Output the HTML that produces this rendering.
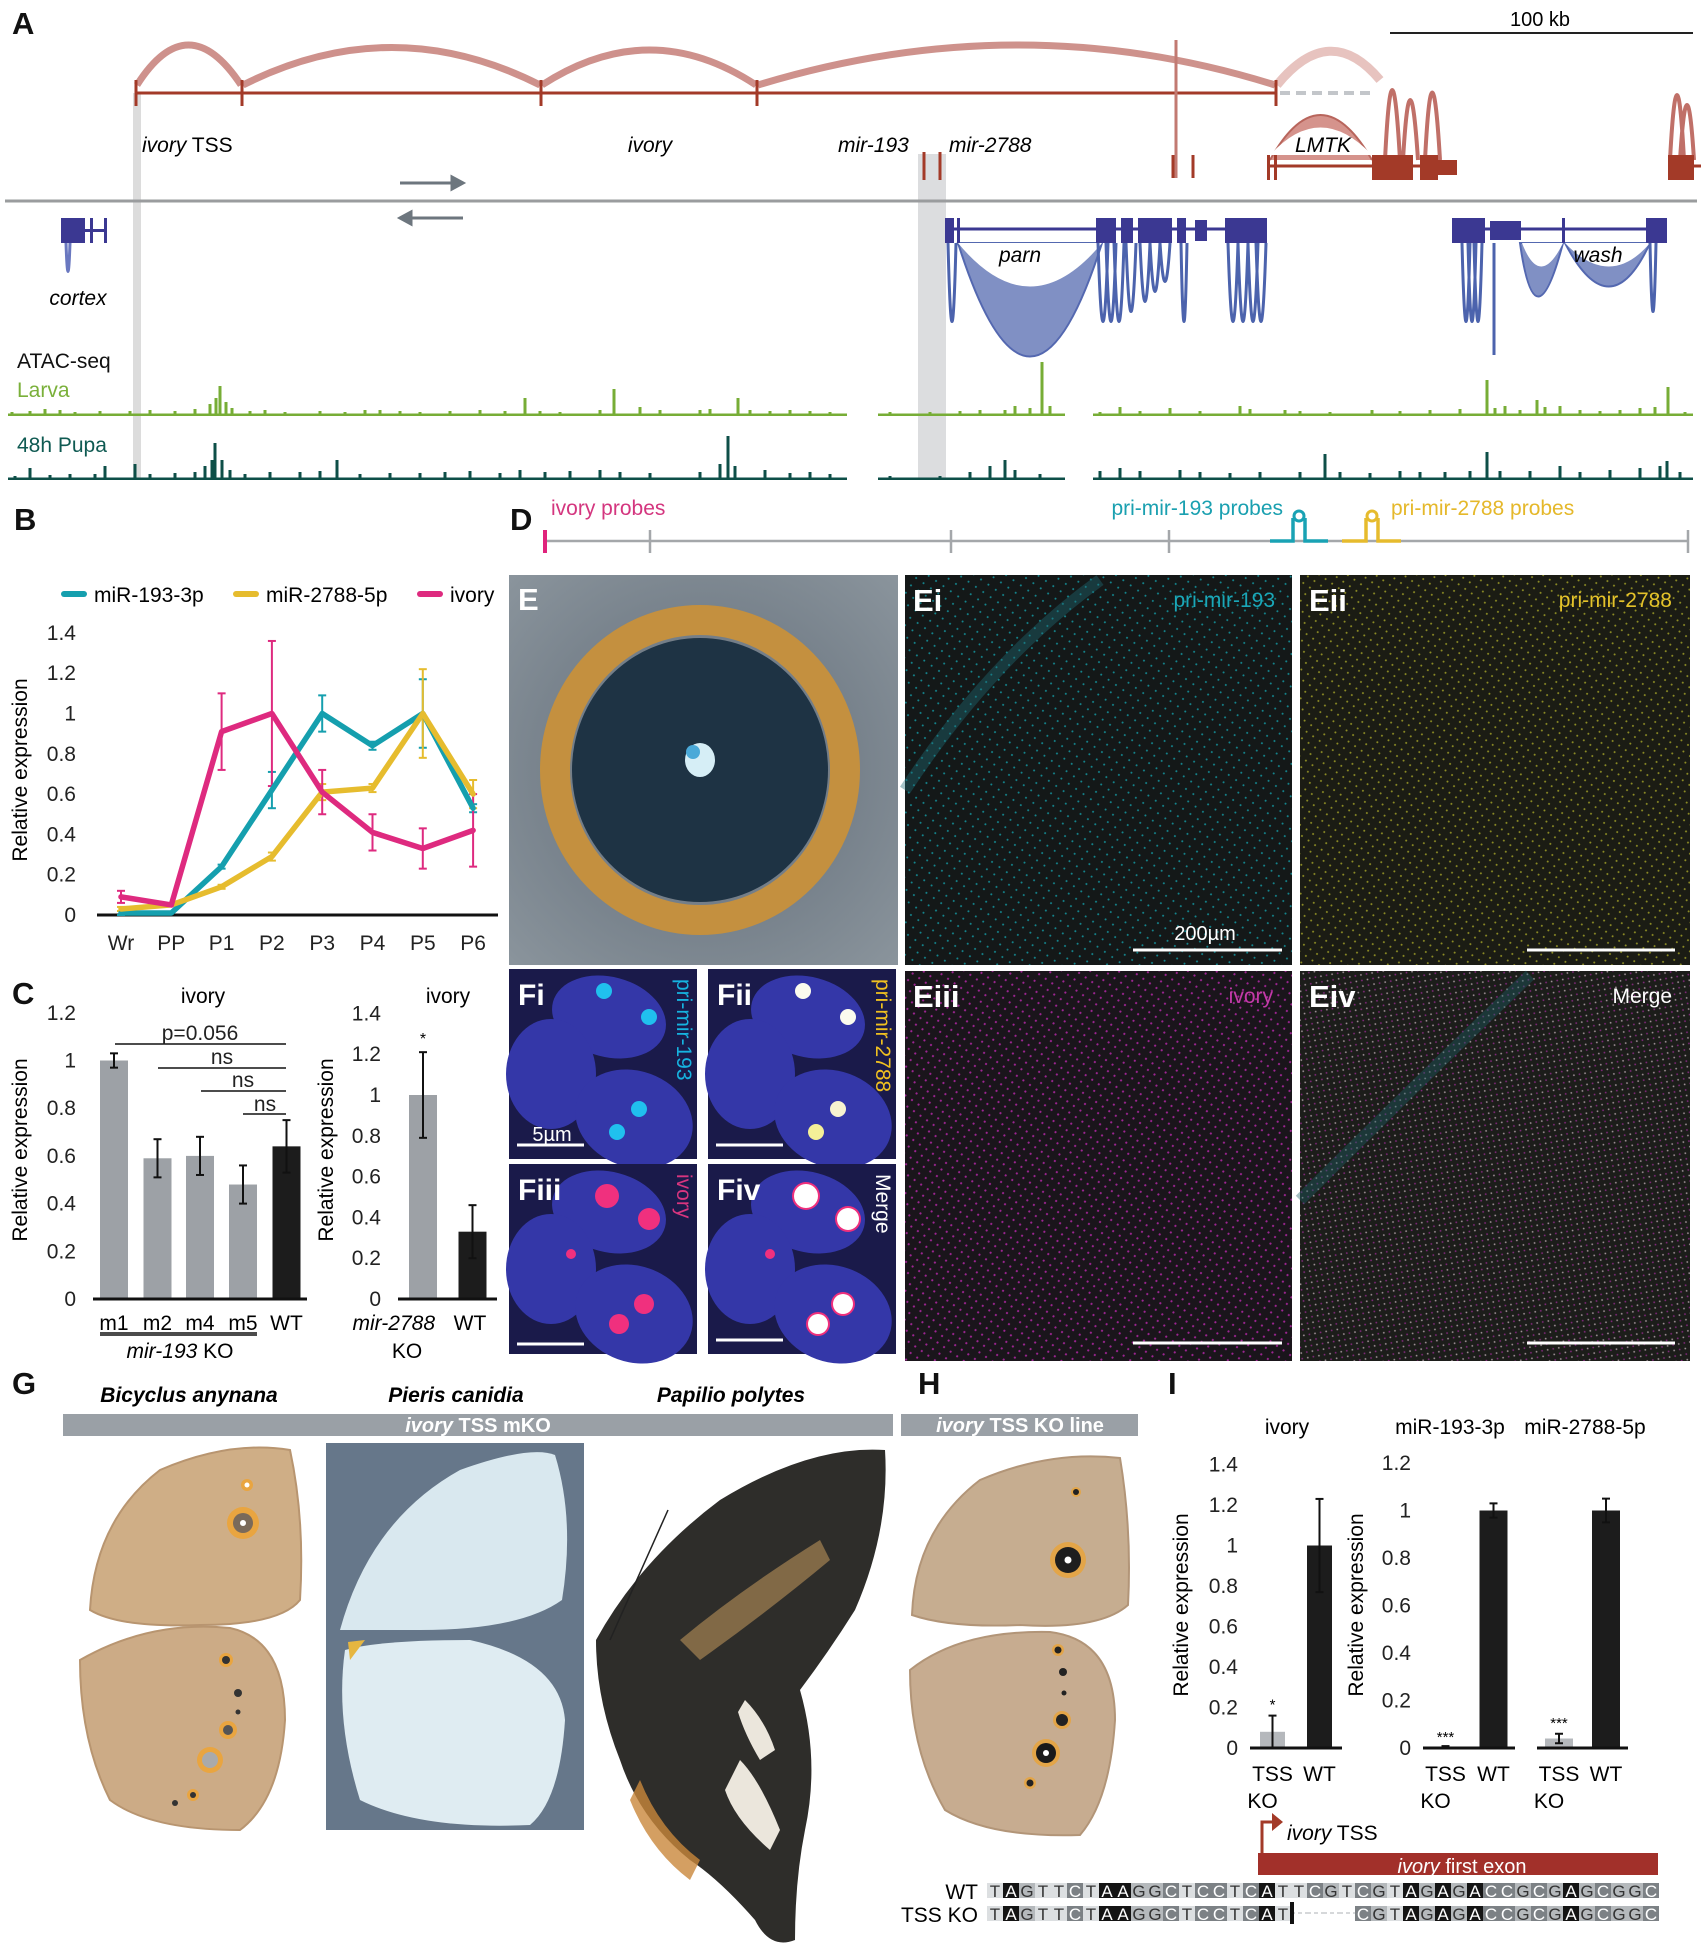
<!DOCTYPE html>
<html><head><meta charset="utf-8"><style>
html,body{margin:0;padding:0;background:#fff}
svg{display:block}
text{font-family:"Liberation Sans",sans-serif}
.pl{font-weight:bold;font-size:31px;fill:#111}
.tk{font-size:21px;fill:#222}
.it{font-style:italic}
</style></head><body>
<svg id="fig" width="1701" height="1950" viewBox="0 0 1701 1950" xmlns="http://www.w3.org/2000/svg">
<defs>
<pattern id="dotC" width="9" height="9" patternUnits="userSpaceOnUse" patternTransform="rotate(35)"><rect width="9" height="9" fill="#141818"/><circle cx="2" cy="2" r="1" fill="#138890"/></pattern>
<pattern id="dotY" width="8" height="8" patternUnits="userSpaceOnUse" patternTransform="rotate(35)"><rect width="8" height="8" fill="#1b1c14"/><circle cx="2" cy="2" r="1" fill="#8f8e25"/></pattern>
<pattern id="dotM" width="8" height="8" patternUnits="userSpaceOnUse" patternTransform="rotate(35)"><rect width="8" height="8" fill="#1a151b"/><circle cx="2" cy="2" r="1.1" fill="#9d2592"/></pattern>
<pattern id="dotW" width="8" height="8" patternUnits="userSpaceOnUse" patternTransform="rotate(35)"><rect width="8" height="8" fill="#1c1d1a"/><circle cx="2" cy="2" r="0.9" fill="#a7989e"/><circle cx="6" cy="6" r="0.9" fill="#86287f"/></pattern>
<radialGradient id="eyeBg" cx="0.5" cy="0.5" r="0.7"><stop offset="0" stop-color="#5f6a76"/><stop offset="1" stop-color="#8a949c"/></radialGradient>
</defs>

<!-- ===== Panel A ===== -->
<g>
<text class="pl" x="12" y="34">A</text>
<rect x="133" y="93" width="8" height="387" fill="#dcdcdc"/>
<rect x="918" y="154" width="28" height="326" fill="#dcdddf"/>
<g fill="none" stroke="#c98680" stroke-width="7" opacity="0.9">
<path d="M137 85 Q188 5 241 85"/><path d="M243 85 Q392 10 540 85"/><path d="M542 85 Q650 15 756 85"/><path d="M758 85 Q1020 5 1275 85"/>
</g>
<path d="M1277 85 Q1330 20 1380 80" fill="none" stroke="#e7c3bf" stroke-width="9"/>
<line x1="135" y1="93" x2="1277" y2="93" stroke="#a33a28" stroke-width="3"/>
<g stroke="#a33a28" stroke-width="3">
<line x1="136" y1="80" x2="136" y2="106"/><line x1="242" y1="80" x2="242" y2="106"/><line x1="541" y1="80" x2="541" y2="106"/><line x1="757" y1="80" x2="757" y2="106"/><line x1="1276" y1="80" x2="1276" y2="106"/>
</g>
<line x1="1280" y1="93" x2="1372" y2="93" stroke="#c3c6ca" stroke-width="4" stroke-dasharray="10 6"/>
<line x1="1176" y1="40" x2="1176" y2="178" stroke="#c27a72" stroke-width="3"/>
<g stroke="#a33a28" stroke-width="3"><line x1="1173" y1="155" x2="1173" y2="178"/><line x1="1193" y1="155" x2="1193" y2="178"/><line x1="924" y1="152" x2="924" y2="180"/><line x1="940" y1="152" x2="940" y2="180"/></g>
<g>
<path d="M1270 160 Q1320 70 1372 160" fill="#d5938c" stroke="#b8655c" stroke-width="2"/>
<path d="M1270 155 Q1320 100 1372 155" fill="#fff" stroke="none"/>
<path d="M1385 160 Q1392 20 1400 160 M1403 160 Q1410 40 1418 160 M1425 160 Q1432 25 1440 160" fill="none" stroke="#c07068" stroke-width="4"/>
<line x1="1267" y1="166" x2="1457" y2="166" stroke="#a33a28" stroke-width="3"/>
<rect x="1267" y="155" width="3" height="25" fill="#a33a28"/><rect x="1274" y="155" width="3" height="25" fill="#a33a28"/>
<rect x="1372" y="155" width="41" height="25" fill="#a33a28"/><rect x="1420" y="155" width="18" height="25" fill="#a33a28"/><rect x="1438" y="160" width="19" height="15" fill="#a33a28"/>
<path d="M1670 160 Q1677 30 1684 160 M1680 160 Q1687 50 1694 160" fill="none" stroke="#c07068" stroke-width="4"/>
<rect x="1668" y="155" width="26" height="25" fill="#a33a28"/><line x1="1668" y1="166" x2="1701" y2="166" stroke="#a33a28" stroke-width="3"/>
</g>
<text x="142" y="152" font-size="21"><tspan class="it">ivory</tspan> TSS</text>
<text x="650" y="152" font-size="21" class="it" text-anchor="middle">ivory</text>
<text x="838" y="152" font-size="21" class="it">mir-193</text>
<text x="949" y="152" font-size="21" class="it">mir-2788</text>
<text x="1323" y="152" font-size="21" class="it" text-anchor="middle">LMTK</text>
<text x="1540" y="26" font-size="20" text-anchor="middle">100 kb</text>
<line x1="1390" y1="33" x2="1693" y2="33" stroke="#222" stroke-width="2"/>
<g stroke="#6d767e" stroke-width="3" fill="#6d767e">
<line x1="400" y1="183" x2="456" y2="183"/><path d="M463 183 L452 177 L452 189Z"/>
<line x1="407" y1="218" x2="463" y2="218"/><path d="M400 218 L411 212 L411 224Z"/>
</g>
<line x1="5" y1="201" x2="1697" y2="201" stroke="#9a9c9e" stroke-width="3"/>
<g fill="#3b3892">
<rect x="61" y="218" width="24" height="25"/><rect x="90" y="218" width="3" height="25"/><rect x="104" y="218" width="3" height="25"/><rect x="85" y="229" width="22" height="3"/>
<path d="M66 243 Q68 300 70 243" fill="none" stroke="#6a78c0" stroke-width="3"/>
</g>
<text x="78" y="305" font-size="21" class="it" text-anchor="middle">cortex</text>
<g>
<path d="M958 243 Q1030 470 1102 243 Z" fill="#8090c4" stroke="#5468b0" stroke-width="2"/>
<path d="M958 243 Q1030 330 1102 243 Z" fill="#fff"/>
<g fill="none" stroke="#4c63ad" stroke-width="3">
<path d="M948 243 Q952 400 956 243"/><path d="M1098 243 Q1103 400 1108 243 M1106 243 Q1111 400 1116 243 M1114 243 Q1119 400 1124 243 M1126 243 Q1131 380 1136 243 M1140 243 Q1145 360 1150 243 M1150 243 Q1155 340 1160 243 M1160 243 Q1165 320 1170 243 M1181 243 Q1184 400 1187 243 M1228 243 Q1233 400 1238 243 M1238 243 Q1243 400 1248 243 M1248 243 Q1253 400 1258 243 M1256 243 Q1261 400 1266 243"/>
</g>
<line x1="945" y1="229" x2="1267" y2="229" stroke="#3b3892" stroke-width="3"/>
<g fill="#3b3892"><rect x="945" y="218" width="9" height="25"/><rect x="957" y="218" width="3" height="25"/><rect x="1096" y="218" width="20" height="25"/><rect x="1121" y="218" width="12" height="25"/><rect x="1138" y="218" width="34" height="25"/><rect x="1177" y="218" width="9" height="25"/><rect x="1195" y="220" width="12" height="21"/><rect x="1225" y="218" width="42" height="25"/></g>
</g>
<text x="1020" y="262" font-size="21" class="it" text-anchor="middle">parn</text>
<g>
<path d="M1520 243 Q1535 350 1563 243 Z" fill="#8090c4" stroke="#5468b0" stroke-width="2"/>
<path d="M1565 243 Q1610 330 1650 243 Z" fill="#8090c4" stroke="#5468b0" stroke-width="2"/>
<path d="M1522 243 Q1540 290 1563 243 Z M1565 243 Q1610 290 1650 243Z" fill="#fff"/>
<g fill="none" stroke="#4c63ad" stroke-width="3"><path d="M1462 243 Q1466 400 1470 243 M1468 243 Q1472 400 1476 243 M1474 243 Q1478 400 1482 243 M1494 243 L1494 355 M1650 243 Q1653 380 1656 243"/></g>
<line x1="1452" y1="229" x2="1667" y2="229" stroke="#3b3892" stroke-width="3"/>
<g fill="#3b3892"><rect x="1452" y="218" width="33" height="25"/><rect x="1490" y="221" width="31" height="19"/><rect x="1562" y="218" width="3" height="25"/><rect x="1646" y="218" width="21" height="25"/></g>
</g>
<text x="1598" y="262" font-size="21" class="it" text-anchor="middle">wash</text>
<text x="17" y="368" font-size="21" fill="#111">ATAC-seq</text>
<text x="17" y="397" font-size="21" fill="#7ab03a">Larva</text>
<text x="17" y="452" font-size="21" fill="#0f5a52">48h Pupa</text>
<g id="atac"></g>
</g>

<!-- ===== Panel B ===== -->
<g>
<text class="pl" x="14" y="530">B</text>
<g>
<line x1="64" y1="594" x2="84" y2="594" stroke="#159fae" stroke-width="6" stroke-linecap="round"/>
<text x="94" y="602" font-size="21">miR-193-3p</text>
<line x1="236" y1="594" x2="256" y2="594" stroke="#e6bc2e" stroke-width="6" stroke-linecap="round"/>
<text x="266" y="602" font-size="21">miR-2788-5p</text>
<line x1="420" y1="594" x2="440" y2="594" stroke="#de2a7f" stroke-width="6" stroke-linecap="round"/>
<text x="450" y="602" font-size="21">ivory</text>
</g>
<g id="chartB"></g>
</g>

<!-- ===== Panel C ===== -->
<g>
<text class="pl" x="12" y="1004">C</text>
<g id="chartC1"></g>
<g id="chartC2"></g>
</g>

<!-- ===== Panel D ===== -->
<g>
<text class="pl" x="510" y="530">D</text>
<text x="551" y="515" font-size="21" fill="#d4367f">ivory probes</text>
<text x="1283" y="515" font-size="21" fill="#1aa0b0" text-anchor="end">pri-mir-193 probes</text>
<text x="1391" y="515" font-size="21" fill="#e5b82a">pri-mir-2788 probes</text>
<line x1="544" y1="541" x2="1688" y2="541" stroke="#a4a7aa" stroke-width="2.5"/>
<g stroke="#a4a7aa" stroke-width="2.5"><line x1="650" y1="530" x2="650" y2="553"/><line x1="951" y1="530" x2="951" y2="553"/><line x1="1169" y1="530" x2="1169" y2="553"/><line x1="1688" y1="530" x2="1688" y2="553"/></g>
<line x1="545" y1="530" x2="545" y2="553" stroke="#e0237c" stroke-width="4"/>
<path d="M1270 541 H1293 V518 M1305 518 V541 H1328" fill="none" stroke="#19a2b4" stroke-width="3.5"/><circle cx="1299" cy="516" r="5" fill="none" stroke="#19a2b4" stroke-width="3"/>
<path d="M1342 541 H1366 V518 M1378 518 V541 H1401" fill="none" stroke="#e6bb2d" stroke-width="3.5"/><circle cx="1372" cy="516" r="5" fill="none" stroke="#e6bb2d" stroke-width="3"/>
</g>

<!-- ===== Panel E ===== -->
<g>
<g>
<rect x="509" y="575" width="389" height="390" fill="url(#eyeBg)"/>
<ellipse cx="700" cy="770" rx="145" ry="150" fill="none" stroke="#c4903f" stroke-width="30"/>
<ellipse cx="700" cy="770" rx="128" ry="132" fill="#1e3344"/>
<ellipse cx="700" cy="760" rx="15" ry="17" fill="#d6eef6"/>
<ellipse cx="693" cy="752" rx="7" ry="7" fill="#4aa9d8"/>
<text class="pl" x="518" y="610" fill="#fff" style="fill:#fff">E</text>
</g>
<g>
<rect x="905" y="575" width="387" height="390" fill="url(#dotC)"/>
<path d="M905 790 Q990 660 1100 580" stroke="#1d6f77" stroke-width="12" fill="none" opacity="0.4"/>
<text class="pl" x="913" y="611" style="fill:#fff">Ei</text>
<text x="1275" y="607" font-size="21" fill="#1aa7b8" text-anchor="end">pri-mir-193</text>
<line x1="1133" y1="950" x2="1282" y2="950" stroke="#fff" stroke-width="3"/>
<text x="1205" y="940" font-size="20" fill="#fff" text-anchor="middle">200µm</text>
</g>
<g>
<rect x="1300" y="575" width="390" height="390" fill="url(#dotY)"/>
<text class="pl" x="1309" y="611" style="fill:#fff">Eii</text>
<text x="1672" y="607" font-size="21" fill="#e4c22a" text-anchor="end">pri-mir-2788</text>
<line x1="1527" y1="950" x2="1675" y2="950" stroke="#fff" stroke-width="3"/>
</g>
<g>
<rect x="905" y="971" width="387" height="390" fill="url(#dotM)"/>
<text class="pl" x="913" y="1007" style="fill:#fff">Eiii</text>
<text x="1273" y="1003" font-size="21" fill="#c33aa8" text-anchor="end">ivory</text>
<line x1="1133" y1="1343" x2="1282" y2="1343" stroke="#fff" stroke-width="3"/>
</g>
<g>
<rect x="1300" y="971" width="390" height="390" fill="url(#dotW)"/>
<path d="M1300 1200 Q1400 1100 1530 975" stroke="#1f5e66" stroke-width="12" fill="none" opacity="0.4"/>
<text class="pl" x="1309" y="1007" style="fill:#fff">Eiv</text>
<text x="1672" y="1003" font-size="21" fill="#fff" text-anchor="end">Merge</text>
<line x1="1527" y1="1343" x2="1675" y2="1343" stroke="#fff" stroke-width="3"/>
</g>
</g>

<!-- ===== Panel F ===== -->
<g id="panelF"></g>

<!-- ===== Panel G / H ===== -->
<g>
<text class="pl" x="12" y="1394">G</text>
<text x="189" y="1402" font-size="21" font-weight="bold" font-style="italic" text-anchor="middle">Bicyclus anynana</text>
<text x="456" y="1402" font-size="21" font-weight="bold" font-style="italic" text-anchor="middle">Pieris canidia</text>
<text x="731" y="1402" font-size="21" font-weight="bold" font-style="italic" text-anchor="middle">Papilio polytes</text>
<rect x="63" y="1414" width="830" height="22" fill="#9aa0a6"/>
<text x="478" y="1432" font-size="20" font-weight="bold" fill="#fff" text-anchor="middle"><tspan font-style="italic">ivory</tspan> TSS mKO</text>
<g>
<path d="M90 1610 Q95 1520 160 1470 Q230 1440 290 1450 Q305 1520 300 1600 Q280 1625 200 1625 Q120 1628 90 1610Z" fill="#cfae86" stroke="#b89570" stroke-width="2"/>
<path d="M80 1660 Q150 1620 230 1628 Q285 1640 285 1720 Q280 1800 240 1830 Q150 1830 110 1800 Q80 1740 80 1660Z" fill="#ccab86" stroke="#b89570" stroke-width="2"/>
<circle cx="243" cy="1523" r="16" fill="#e9a540"/><circle cx="243" cy="1523" r="10" fill="#7a6a5a"/><circle cx="243" cy="1523" r="3" fill="#fff"/>
<circle cx="247" cy="1485" r="6" fill="#e9a540"/><circle cx="247" cy="1485" r="2.5" fill="#fff"/>
<circle cx="226" cy="1660" r="7" fill="#e9a540"/><circle cx="226" cy="1660" r="4" fill="#333"/>
<circle cx="238" cy="1693" r="4" fill="#333"/><circle cx="238" cy="1712" r="2.5" fill="#333"/>
<circle cx="228" cy="1730" r="9" fill="#e9a540"/><circle cx="228" cy="1730" r="5" fill="#555"/>
<circle cx="210" cy="1760" r="13" fill="#e9a540"/><circle cx="210" cy="1760" r="8" fill="#aaa"/>
<circle cx="193" cy="1795" r="6" fill="#e9a540"/><circle cx="193" cy="1795" r="3" fill="#333"/><circle cx="175" cy="1803" r="3" fill="#333"/>
</g>
<g>
<rect x="326" y="1443" width="258" height="387" fill="#66778a"/>
<path d="M340 1630 Q370 1520 460 1470 Q530 1445 555 1455 Q575 1520 562 1600 Q520 1630 420 1630Z" fill="#d9e8ef"/>
<path d="M345 1650 Q380 1640 470 1640 Q560 1660 565 1720 Q560 1800 530 1825 Q420 1830 360 1800 Q335 1720 345 1650Z" fill="#dfecf2"/>
<path d="M348 1642 L365 1640 L350 1660Z" fill="#e6b640"/>
</g>
<g>
<path d="M596 1640 Q640 1560 720 1500 Q810 1445 885 1450 Q890 1530 855 1610 Q830 1650 800 1690 Q820 1760 805 1830 Q795 1880 795 1940 Q770 1950 755 1920 Q720 1880 690 1860 Q640 1820 620 1760 Q596 1700 596 1640Z" fill="#2e2d2a"/>
<path d="M680 1640 Q740 1590 820 1540 L830 1560 Q770 1610 700 1660Z" fill="#c79a5c" opacity="0.55"/>
<path d="M740 1760 Q760 1780 780 1830 L770 1850 Q735 1820 725 1790Z" fill="#ebe6dc"/>
<path d="M745 1700 Q765 1720 775 1750 L760 1760 Q745 1735 738 1712Z" fill="#ebe6dc"/>
<path d="M640 1780 Q660 1830 700 1860 L690 1880 Q650 1850 630 1800Z" fill="#c9873b" opacity="0.8"/>
<line x1="610" y1="1640" x2="668" y2="1510" stroke="#222" stroke-width="1.5"/>
</g>
</g>
<g>
<text class="pl" x="918" y="1394">H</text>
<rect x="901" y="1414" width="237" height="22" fill="#9aa0a6"/>
<text x="1020" y="1432" font-size="20" font-weight="bold" fill="#fff" text-anchor="middle"><tspan font-style="italic">ivory</tspan> TSS KO line</text>
<path d="M912 1615 Q915 1530 980 1480 Q1050 1450 1120 1458 Q1132 1530 1128 1605 Q1100 1630 1020 1625 Q950 1628 912 1615Z" fill="#c6ad90" stroke="#b29578" stroke-width="2"/>
<path d="M910 1670 Q960 1630 1050 1632 Q1115 1640 1115 1720 Q1110 1800 1080 1835 Q990 1838 945 1810 Q910 1750 910 1670Z" fill="#c7ac90" stroke="#b29578" stroke-width="2"/>
<circle cx="1068" cy="1560" r="18" fill="#e3a548"/><circle cx="1068" cy="1560" r="13" fill="#1e1e1e"/><circle cx="1068" cy="1560" r="3.5" fill="#fff"/>
<circle cx="1076" cy="1492" r="5" fill="#e3a548"/><circle cx="1076" cy="1492" r="3" fill="#222"/>
<circle cx="1058" cy="1650" r="6" fill="#e3a548"/><circle cx="1058" cy="1650" r="3.5" fill="#222"/>
<circle cx="1063" cy="1672" r="4" fill="#222"/><circle cx="1064" cy="1693" r="2.5" fill="#222"/>
<circle cx="1062" cy="1720" r="9" fill="#e3a548"/><circle cx="1062" cy="1720" r="6" fill="#222"/>
<circle cx="1046" cy="1753" r="14" fill="#e3a548"/><circle cx="1046" cy="1753" r="10" fill="#1a1a1a"/><circle cx="1046" cy="1753" r="3" fill="#fff"/>
<circle cx="1030" cy="1783" r="6" fill="#e3a548"/><circle cx="1030" cy="1783" r="3.5" fill="#222"/>
</g>

<!-- ===== Panel I ===== -->
<g>
<text class="pl" x="1168" y="1394">I</text>
<g id="chartI1"></g>
<g id="chartI2"></g>
</g>

<!-- ===== Sequence ===== -->
<g>
<path d="M1262 1853 V1822 H1273" fill="none" stroke="#a33a28" stroke-width="3"/>
<path d="M1272 1813 L1283 1822 L1272 1831Z" fill="#a33a28"/>
<text x="1287" y="1840" font-size="21"><tspan class="it">ivory</tspan> TSS</text>
<rect x="1258" y="1853" width="400" height="22" fill="#a2302a"/>
<text x="1462" y="1873" font-size="20" fill="#fff" text-anchor="middle"><tspan class="it">ivory</tspan> first exon</text>
<text x="978" y="1899" font-size="21" text-anchor="end">WT</text>
<text x="978" y="1922" font-size="21" text-anchor="end">TSS KO</text>
<g id="seq"></g>
</g>
</svg>

<script>
// ---------- data ----------
const stagesB = ["Wr","PP","P1","P2","P3","P4","P5","P6"];
const mir193B = [0.01,0.01,0.24,0.62,1.0,0.84,1.0,0.53];
const mir193Err = [0.01,0,0.01,0.09,0.09,0.02,0.17,0.02];
const mir2788B = [0.03,0.05,0.14,0.29,0.61,0.63,1.0,0.60];
const mir2788Err = [0.01,0,0.01,0.02,0.04,0.02,0.22,0.07];
const ivoryB = [0.09,0.05,0.91,1.0,0.61,0.41,0.33,0.42];
const ivoryErr = [0.03,0,0.19,0.36,0.11,0.09,0.10,0.18];
const ticksB = ["0","0.2","0.4","0.6","0.8","1","1.2","1.4"];

const catsC1 = ["m1","m2","m4","m5","WT"];
const valsC1 = [1.0,0.59,0.60,0.48,0.64];
const errC1 = [0.03,0.08,0.08,0.08,0.11];
const ticksC1 = ["0","0.2","0.4","0.6","0.8","1","1.2"];
const catsC2 = ["mir-2788 KO","WT"];
const valsC2 = [1.0,0.33];
const errC2 = [0.21,0.13];
const ticksC2 = ["0","0.2","0.4","0.6","0.8","1","1.2","1.4"];

const catsI1 = ["TSS KO","WT"];
const valsI1 = [0.08,1.0];
const errI1 = [0.08,0.23];
const ticksI1 = ["0","0.2","0.4","0.6","0.8","1","1.2","1.4"];
const catsI2 = ["TSS KO","WT","TSS KO","WT"];
const valsI2 = [0.005,1.0,0.04,1.0];
const errI2 = [0.003,0.03,0.02,0.05];
const ticksI2 = ["0","0.2","0.4","0.6","0.8","1","1.2"];

const larvaPeaks = [[12,4],[30,5],[45,7],[60,6],[75,4],[100,5],[130,5],[150,6],[175,5],[195,7],[210,12],[216,18],[220,30],[226,14],[232,8],[250,5],[265,6],[285,4],[320,5],[345,4],[365,6],[380,6],[400,5],[420,4],[450,5],[480,6],[505,5],[525,18],[540,5],[560,4],[600,6],[614,27],[640,9],[660,6],[700,6],[710,7],[738,18],[750,6],[770,5],[790,6],[810,5],[830,4],[890,4],[930,4],[960,5],[980,6],[1005,6],[1015,10],[1030,8],[1042,54],[1050,10],[1100,4],[1120,9],[1140,5],[1170,8],[1200,5],[1240,10],[1250,7],[1285,6],[1300,5],[1330,4],[1372,6],[1400,5],[1430,6],[1460,7],[1487,36],[1495,8],[1505,10],[1520,6],[1537,16],[1545,9],[1560,10],[1580,6],[1600,5],[1620,6],[1640,8],[1655,9],[1668,29],[1685,4]];
const pupaPeaks = [[15,4],[30,12],[50,5],[70,6],[95,6],[105,14],[135,16],[150,6],[175,7],[195,8],[205,14],[212,20],[215,37],[222,20],[230,10],[245,6],[270,8],[300,8],[320,9],[337,20],[360,6],[390,7],[420,7],[445,8],[470,9],[500,7],[520,10],[545,8],[570,9],[600,10],[620,8],[650,7],[700,8],[720,16],[728,44],[735,14],[765,10],[790,7],[810,8],[830,6],[890,4],[940,4],[970,8],[990,14],[1005,20],[1015,10],[1040,6],[1100,9],[1120,12],[1140,9],[1180,10],[1200,8],[1230,7],[1260,8],[1300,8],[1325,26],[1340,8],[1370,7],[1400,9],[1420,8],[1445,8],[1470,9],[1487,28],[1500,9],[1530,9],[1560,14],[1580,8],[1610,10],[1640,12],[1660,14],[1667,19],[1680,8]];

const seqWT = "TAGTTCTAAGGCTCCTCATTCGTCGTAGAGACCGCGAGCGGC";
const seqKO = "TAGTTCTAAGGCTCCTCAT----CGTAGAGACCGCGAGCGGC";

// ---------- helpers ----------
const NS = "http://www.w3.org/2000/svg";
function mk(parent, tag, attrs, txt){
  const e = document.createElementNS(NS, tag);
  for (const k in attrs) e.setAttribute(k, attrs[k]);
  if (txt !== undefined) e.textContent = txt;
  parent.appendChild(e);
  return e;
}
function errBar(g, x, y1, y2, col, w){
  const l = mk(g,"line",{x1:x,x2:x,y1:y1,y2:y2,stroke:col,"stroke-width":2});
  
  
  mk(g,"line",{x1:x-w,x2:x+w,y1:y1,y2:y1,stroke:col,"stroke-width":2});
  mk(g,"line",{x1:x-w,x2:x+w,y1:y2,y2:y2,stroke:col,"stroke-width":2});
}
function yTicks(g, ticks, yfn, xr){
  ticks.forEach(t=>{
    const e = mk(g,"text",{x:xr,y:yfn(parseFloat(t))+7,"text-anchor":"end",class:"tk"},t);
    
    
  });
}
function yTitle(g, x, y){
  const e = mk(g,"text",{x:x,y:y,"text-anchor":"middle","font-size":21,transform:`rotate(-90 ${x} ${y})`},"Relative expression");
  
  
}

// ---------- Chart B ----------
(function(){
  const g = document.getElementById("chartB");
  const y = v => 915 - v*201.5;
  const x = i => 121 + i*50.3;
  yTicks(g, ticksB, y, 76);
  yTitle(g, 27, 770);
  const ax = mk(g,"line",{x1:97,x2:498,y1:915,y2:915,stroke:"#111","stroke-width":3});
  
  
  stagesB.forEach((s,i)=>{
    const t = mk(g,"text",{x:x(i),y:950,"text-anchor":"middle",class:"tk"},s);
    
    
  });
  const series = [[mir193B,mir193Err,"#159fae","line-mir193"],[mir2788B,mir2788Err,"#e6bc2e","line-mir2788"],[ivoryB,ivoryErr,"#de2a7f","line-ivory"]];
  series.forEach(([vals,errs,col,name])=>{
    vals.forEach((v,i)=>{ if(errs[i]>0) errBar(g,x(i),y(v+errs[i]),y(v-errs[i]),col,4); });
  });
  series.forEach(([vals,errs,col,name])=>{
    const p = mk(g,"polyline",{points:vals.map((v,i)=>x(i)+","+y(v)).join(" "),fill:"none",stroke:col,"stroke-width":5.5,"stroke-linejoin":"round","stroke-linecap":"round"});
    
    
  });
})();

// ---------- bar chart helper ----------
function barChart(g, vals, errs, centers, bw, yfn, colors){
  vals.forEach((v,i)=>{
    const r = mk(g,"rect",{x:centers[i]-bw/2,y:yfn(v),width:bw,height:yfn(0)-yfn(v),fill:colors[i]});
    
    
    errBar(g,centers[i],yfn(v+errs[i]),yfn(Math.max(0,v-errs[i])),"#111",4);
  });
}

// ---------- Chart C1 ----------
(function(){
  const g = document.getElementById("chartC1");
  const y = v => 1299 - v*238.5;
  yTicks(g, ticksC1, y, 76);
  yTitle(g, 27, 1150);
  mk(g,"text",{x:203,y:1003,"text-anchor":"middle","font-size":21},"ivory");
  barChart(g, valsC1, errC1, [114,157.5,200,243,286.5], 28, y, ["#9da1a6","#9da1a6","#9da1a6","#9da1a6","#1c1c1c"]);
  mk(g,"line",{x1:93,x2:307,y1:1299,y2:1299,stroke:"#111","stroke-width":3});
  [[115,1044],[158,1068],[201,1091],[243,1114]].forEach(([x1,yy])=>mk(g,"line",{x1:x1,x2:286,y1:yy,y2:yy,stroke:"#111","stroke-width":1.5}));
  mk(g,"text",{x:200,y:1040,"text-anchor":"middle",class:"tk"},"p=0.056");
  mk(g,"text",{x:222,y:1064,"text-anchor":"middle",class:"tk"},"ns");
  mk(g,"text",{x:243,y:1087,"text-anchor":"middle",class:"tk"},"ns");
  mk(g,"text",{x:265,y:1111,"text-anchor":"middle",class:"tk"},"ns");
  const cx=[114,157.5,200,243,286.5];
  catsC1.forEach((c,i)=>{
    const t = mk(g,"text",{x:cx[i],y:1330,"text-anchor":"middle","font-size":21},c);
    
    
  });
  mk(g,"line",{x1:100,x2:257,y1:1333,y2:1333,stroke:"#111","stroke-width":1.5});
  mk(g,"line",{x1:100,x2:257,y1:1335,y2:1335,stroke:"#111","stroke-width":1.5});
  const t2 = mk(g,"text",{x:180,y:1358,"text-anchor":"middle","font-size":21});
  mk(t2,"tspan",{class:"it"},"mir-193");
  mk(t2,"tspan",{}," KO");
})();

// ---------- Chart C2 ----------
(function(){
  const g = document.getElementById("chartC2");
  const y = v => 1299 - v*204;
  yTicks(g, ticksC2, y, 381);
  yTitle(g, 333, 1150);
  mk(g,"text",{x:448,y:1003,"text-anchor":"middle","font-size":21},"ivory");
  barChart(g, valsC2, errC2, [423,472.5], 28, y, ["#9da1a6","#1c1c1c"]);
  mk(g,"text",{x:423,y:y(valsC2[0]+errC2[0])-8,"text-anchor":"middle","font-size":16},"*");
  mk(g,"line",{x1:398,x2:497,y1:1299,y2:1299,stroke:"#111","stroke-width":3});
  mk(g,"text",{x:435,y:1330,"text-anchor":"end","font-size":21,class:"it"},"mir-2788");
  mk(g,"text",{x:470,y:1330,"text-anchor":"middle","font-size":21},catsC2[1]);
  mk(g,"text",{x:407,y:1358,"text-anchor":"middle","font-size":21},"KO");
})();

// ---------- Chart I1 ----------
(function(){
  const g = document.getElementById("chartI1");
  const y = v => 1748 - v*202.5;
  yTicks(g, ticksI1, y, 1238);
  yTitle(g, 1188, 1605);
  mk(g,"text",{x:1287,y:1434,"text-anchor":"middle","font-size":21},"ivory");
  const cx=[1272.5,1319.5];
  barChart(g, valsI1, errI1, cx, 25, y, ["#b5b8bc","#1c1c1c"]);
  mk(g,"text",{x:cx[0],y:y(valsI1[0]+errI1[0])-6,"text-anchor":"middle","font-size":15},"*");
  mk(g,"line",{x1:1250,x2:1342,y1:1748,y2:1748,stroke:"#111","stroke-width":3});
  catsI1.forEach((c,i)=>{
    const parts=c.split(" ");
    mk(g,"text",{x:cx[i],y:1781,"text-anchor":"middle","font-size":21},parts[0]);
    if(parts[1]) mk(g,"text",{x:cx[i]-10,y:1808,"text-anchor":"middle","font-size":21},parts[1]);
  });
})();

// ---------- Chart I2 ----------
(function(){
  const g = document.getElementById("chartI2");
  const y = v => 1748 - v*237.5;
  yTicks(g, ticksI2, y, 1411);
  yTitle(g, 1363, 1605);
  mk(g,"text",{x:1450,y:1434,"text-anchor":"middle","font-size":21},"miR-193-3p");
  mk(g,"text",{x:1585,y:1434,"text-anchor":"middle","font-size":21},"miR-2788-5p");
  const cx=[1445.5,1493.5,1559,1606];
  barChart(g, valsI2, errI2, cx, 28, y, ["#b5b8bc","#1c1c1c","#b5b8bc","#1c1c1c"]);
  mk(g,"text",{x:cx[0],y:y(valsI2[0]+errI2[0])-4,"text-anchor":"middle","font-size":15},"***");
  mk(g,"text",{x:cx[2],y:y(valsI2[2]+errI2[2])-6,"text-anchor":"middle","font-size":15},"***");
  mk(g,"line",{x1:1423,x2:1515,y1:1748,y2:1748,stroke:"#111","stroke-width":3});
  mk(g,"line",{x1:1537,x2:1628,y1:1748,y2:1748,stroke:"#111","stroke-width":3});
  catsI2.forEach((c,i)=>{
    const parts=c.split(" ");
    mk(g,"text",{x:cx[i],y:1781,"text-anchor":"middle","font-size":21},parts[0]);
    if(parts[1]) mk(g,"text",{x:cx[i]-10,y:1808,"text-anchor":"middle","font-size":21},parts[1]);
  });
})();

// ---------- ATAC tracks ----------
(function(){
  const g = document.getElementById("atac");
  const tracks = [[larvaPeaks,416,"#77ad36"],[pupaPeaks,480,"#0e4f48"]];
  const gaps = [[847,878],[1065,1093]];
  tracks.forEach(([peaks,base,col])=>{
    let x0 = 8;
    gaps.concat([[1693,1700]]).forEach(([a,b])=>{
      mk(g,"rect",{x:x0,y:base-2.5,width:a-x0,height:2.5,fill:col});
      x0=b;
    });
    peaks.forEach(([px,h])=>{
      const r = mk(g,"rect",{x:px-1.5,y:base-h,width:3,height:h,fill:col});
      
      
    });
  });
})();

// ---------- Panel F ----------
(function(){
  const g = document.getElementById("panelF");
  const tiles = [
    [509,969,"Fi","pri-mir-193","#16b3e0",["#20c0ee","#20c0ee","#20c0ee","#20c0ee"]],
    [708,969,"Fii","pri-mir-2788","#f0c020",["#fbfbee","#fbfbee","#f7f3d0","#f4ef98"]],
    [509,1164,"Fiii","ivory","#d9357f",["#f0307e","#f0307e","#f0307e","#f0307e"]],
    [708,1164,"Fiv","Merge","#ffffff",["#fff","#fff","#fff","#fff"]]
  ];
  tiles.forEach(([x,y,lab,name,col,spots])=>{
    const t = mk(g,"g",{});
    
    
    mk(t,"rect",{x:x,y:y,width:188,height:190,fill:"#1a1a4a"});
    mk(t,"ellipse",{cx:x+100,cy:y+48,rx:58,ry:40,fill:"#3437a8",transform:`rotate(15 ${x+100} ${y+48})`});
    mk(t,"ellipse",{cx:x+42,cy:y+105,rx:45,ry:55,fill:"#3437a8"});
    mk(t,"ellipse",{cx:x+125,cy:y+150,rx:60,ry:48,fill:"#3437a8",transform:`rotate(20 ${x+125} ${y+150})`});
    const sp = lab==="Fiii"||lab==="Fiv" ? [[98,32,12],[140,55,11],[135,140,10],[110,160,10]] : [[95,22,8],[140,48,8],[130,140,8],[108,163,8]];
    sp.forEach(([sx,sy,r],k)=>{
      if(lab==="Fiv") mk(t,"circle",{cx:x+sx,cy:y+sy,r:r+2,fill:"#ef2f7c"});
      mk(t,"circle",{cx:x+sx,cy:y+sy,r:r,fill:spots[k]});
    });
    if(lab==="Fiii"||lab==="Fiv") mk(t,"circle",{cx:x+62,cy:y+90,r:5,fill:"#f0307e"});
    mk(t,"text",{x:x+9,y:y+36,"font-size":30,"font-weight":"bold",fill:"#fff"},lab);
    mk(t,"text",{x:x+168,y:y+10,"font-size":21,fill:col,transform:`rotate(90 ${x+168} ${y+10})`},name);
    mk(t,"line",{x1:x+8,x2:x+75,y1:y+(lab.length<4?188-12:180),y2:y+(lab.length<4?188-12:180),stroke:"#fff","stroke-width":3});
  });
  mk(g,"text",{x:552,y:1141,"font-size":20,fill:"#fff","text-anchor":"middle"},"5µm");
})();

// ---------- Sequence ----------
(function(){
  const g = document.getElementById("seq");
  const bg = {A:"#141414",C:"#7c8185",G:"#b5b9bc",T:"#dcdfe1"};
  const fg = {A:"#fff",C:"#fff",G:"#333",T:"#333"};
  [[seqWT,1883],[seqKO,1906]].forEach(([s,yy])=>{
    for(let i=0;i<s.length;i++){
      const ch=s[i], x=987+i*16;
      if(ch==="-"){ mk(g,"line",{x1:x,x2:x+16,y1:yy+7,y2:yy+7,stroke:"#c8cbcd","stroke-width":1.5,"stroke-dasharray":"4 3"}); continue; }
      mk(g,"rect",{x:x,y:yy,width:16,height:15,fill:bg[ch]});
      mk(g,"text",{x:x+8,y:yy+14,"font-size":17,"text-anchor":"middle",fill:fg[ch]},ch);
    }
  });
  mk(g,"rect",{x:1290,y:1902,width:4,height:22,fill:"#111"});
})();
</script>
</body></html>
